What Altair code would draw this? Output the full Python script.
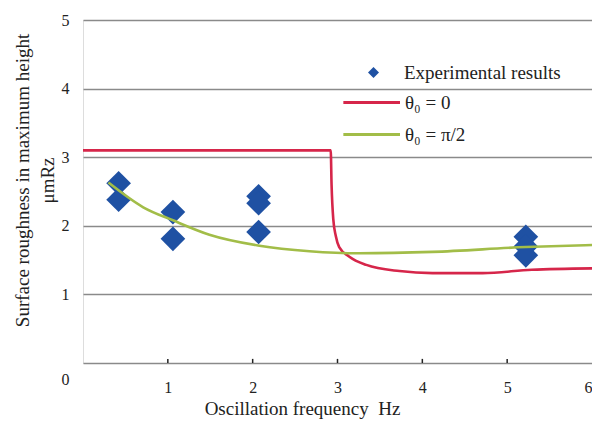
import altair as alt
import pandas as pd

# ---- data ----
exp_x = [0.42, 0.42, 1.06, 1.06, 2.07, 2.07, 2.07, 5.22, 5.22, 5.22]
exp_y = [2.62, 2.38, 2.20, 1.81, 2.43, 2.33, 1.91, 1.84, 1.70, 1.57]

red_x = [0, 2.92, 2.93, 2.95, 2.98, 3.02, 3.14, 3.34, 3.73, 4.12, 4.71, 5.29, 6.0]
red_y = [3.1, 3.1, 2.6, 2.1, 1.85, 1.69, 1.55, 1.43, 1.34, 1.31, 1.31, 1.36, 1.38]

green_x = [0.3, 0.71, 1.06, 1.49, 2.08, 2.67, 3.26, 4.12, 5.22, 6.0]
green_y = [2.63, 2.27, 2.08, 1.87, 1.71, 1.63, 1.60, 1.62, 1.69, 1.72]

tick_x = [1, 2, 3, 4, 5]
x_labels = [1, 2, 3, 4, 5, 6]
y_labels = [0, 1, 2, 3, 4, 5]

exp_name = "Experimental results"
series_names = ["θ₀ = 0", "θ₀ = π/2"]

FONT = "Liberation Serif"
BLUE = "#1f51a3"
RED = "#d6264a"
GREEN = "#a2bd48"
INK = "#222222"

exp_df = pd.DataFrame({"x": exp_x, "y": exp_y, "kind": exp_name})
line_df = pd.concat([
    pd.DataFrame({"x": red_x, "y": red_y, "series": series_names[0], "i": range(len(red_x))}),
    pd.DataFrame({"x": green_x, "y": green_y, "series": series_names[1], "i": range(len(green_x))}),
])
tick_df = pd.DataFrame({"x": tick_x, "y": [0] * len(tick_x), "y2": [0.06] * len(tick_x)})

x_axis = alt.Axis(
    values=x_labels, title="Oscillation frequency\u2002Hz", titleFont=FONT, titleFontSize=19,
    titleFontWeight="normal", titleColor=INK, titleX=219, titleY=51, titleAlign="center",
    titleBaseline="alphabetic",
    labelFont=FONT, labelFontSize=16, labelColor=INK, labelPadding=16,
    ticks=False, domain=False, grid=False,
)
y_axis = alt.Axis(
    values=y_labels,
    title=["Surface roughness in maximum height", "μmRz"],
    titleFont=FONT, titleFontSize=19, titleFontWeight="normal", titleColor=INK,
    titleAngle=-90, titleAlign="center", titleBaseline="alphabetic",
    titleX=-55, titleY=160, titleLineHeight=25,
    labelFont=FONT, labelFontSize=16, labelColor=INK, labelPadding=14,
    labelOffset={"condition": {"test": "datum.value === 0", "value": 16}, "value": 0},
    ticks=False, domain=False, grid=True, gridColor="#8a8a8a", gridWidth=1.4,
)
xs = alt.Scale(domain=[0, 6], nice=False, zero=False)
ys = alt.Scale(domain=[0, 5], nice=False, zero=False)

points = alt.Chart(exp_df).mark_point(shape="diamond", filled=True, size=610, opacity=1, color=BLUE).encode(
    x=alt.X("x:Q", scale=xs, axis=x_axis),
    y=alt.Y("y:Q", scale=ys, axis=y_axis),
    shape=alt.Shape("kind:N", scale=alt.Scale(domain=[exp_name], range=["diamond"]),
                    legend=alt.Legend(title=None, orient="none", legendX=281, legendY=43,
                                      symbolSize=121, symbolFillColor=BLUE, symbolStrokeWidth=0,
                                      labelFont=FONT, labelFontSize=19, labelColor=INK,
                                      labelOffset=21, padding=0)),
)

lines = alt.Chart(line_df).mark_line(strokeWidth=2.6, interpolate="monotone").encode(
    x=alt.X("x:Q", scale=xs, axis=x_axis),
    y=alt.Y("y:Q", scale=ys, axis=y_axis),
    order="i:Q",
    color=alt.Color("series:N", scale=alt.Scale(domain=series_names, range=[RED, GREEN]),
                    legend=alt.Legend(title=None, orient="none", legendX=280, legendY=73,
                                      symbolType="M-5.3,0H5", symbolSize=121, symbolStrokeWidth=3,
                                      labelFont=FONT, labelFontSize=19, labelColor=INK,
                                      labelOffset=23, rowPadding=12, padding=0)),
)

ticks = alt.Chart(tick_df).mark_rule(color=INK, strokeWidth=1.5).encode(
    x=alt.X("x:Q", scale=xs, axis=x_axis),
    y=alt.Y("y:Q", scale=ys, axis=y_axis),
    y2="y2:Q",
)

chart = alt.layer(points, lines, ticks).resolve_legend(color="independent", shape="independent").properties(
    width=509, height=343,
    autosize=alt.AutoSizeParams(type="none"),
    padding={"left": 75, "top": 12, "right": 0, "bottom": 56},
).configure_view(stroke=INK, strokeWidth=2).configure(background="white")

chart.save("out.html", embed_options={"renderer": "svg", "actions": False})
